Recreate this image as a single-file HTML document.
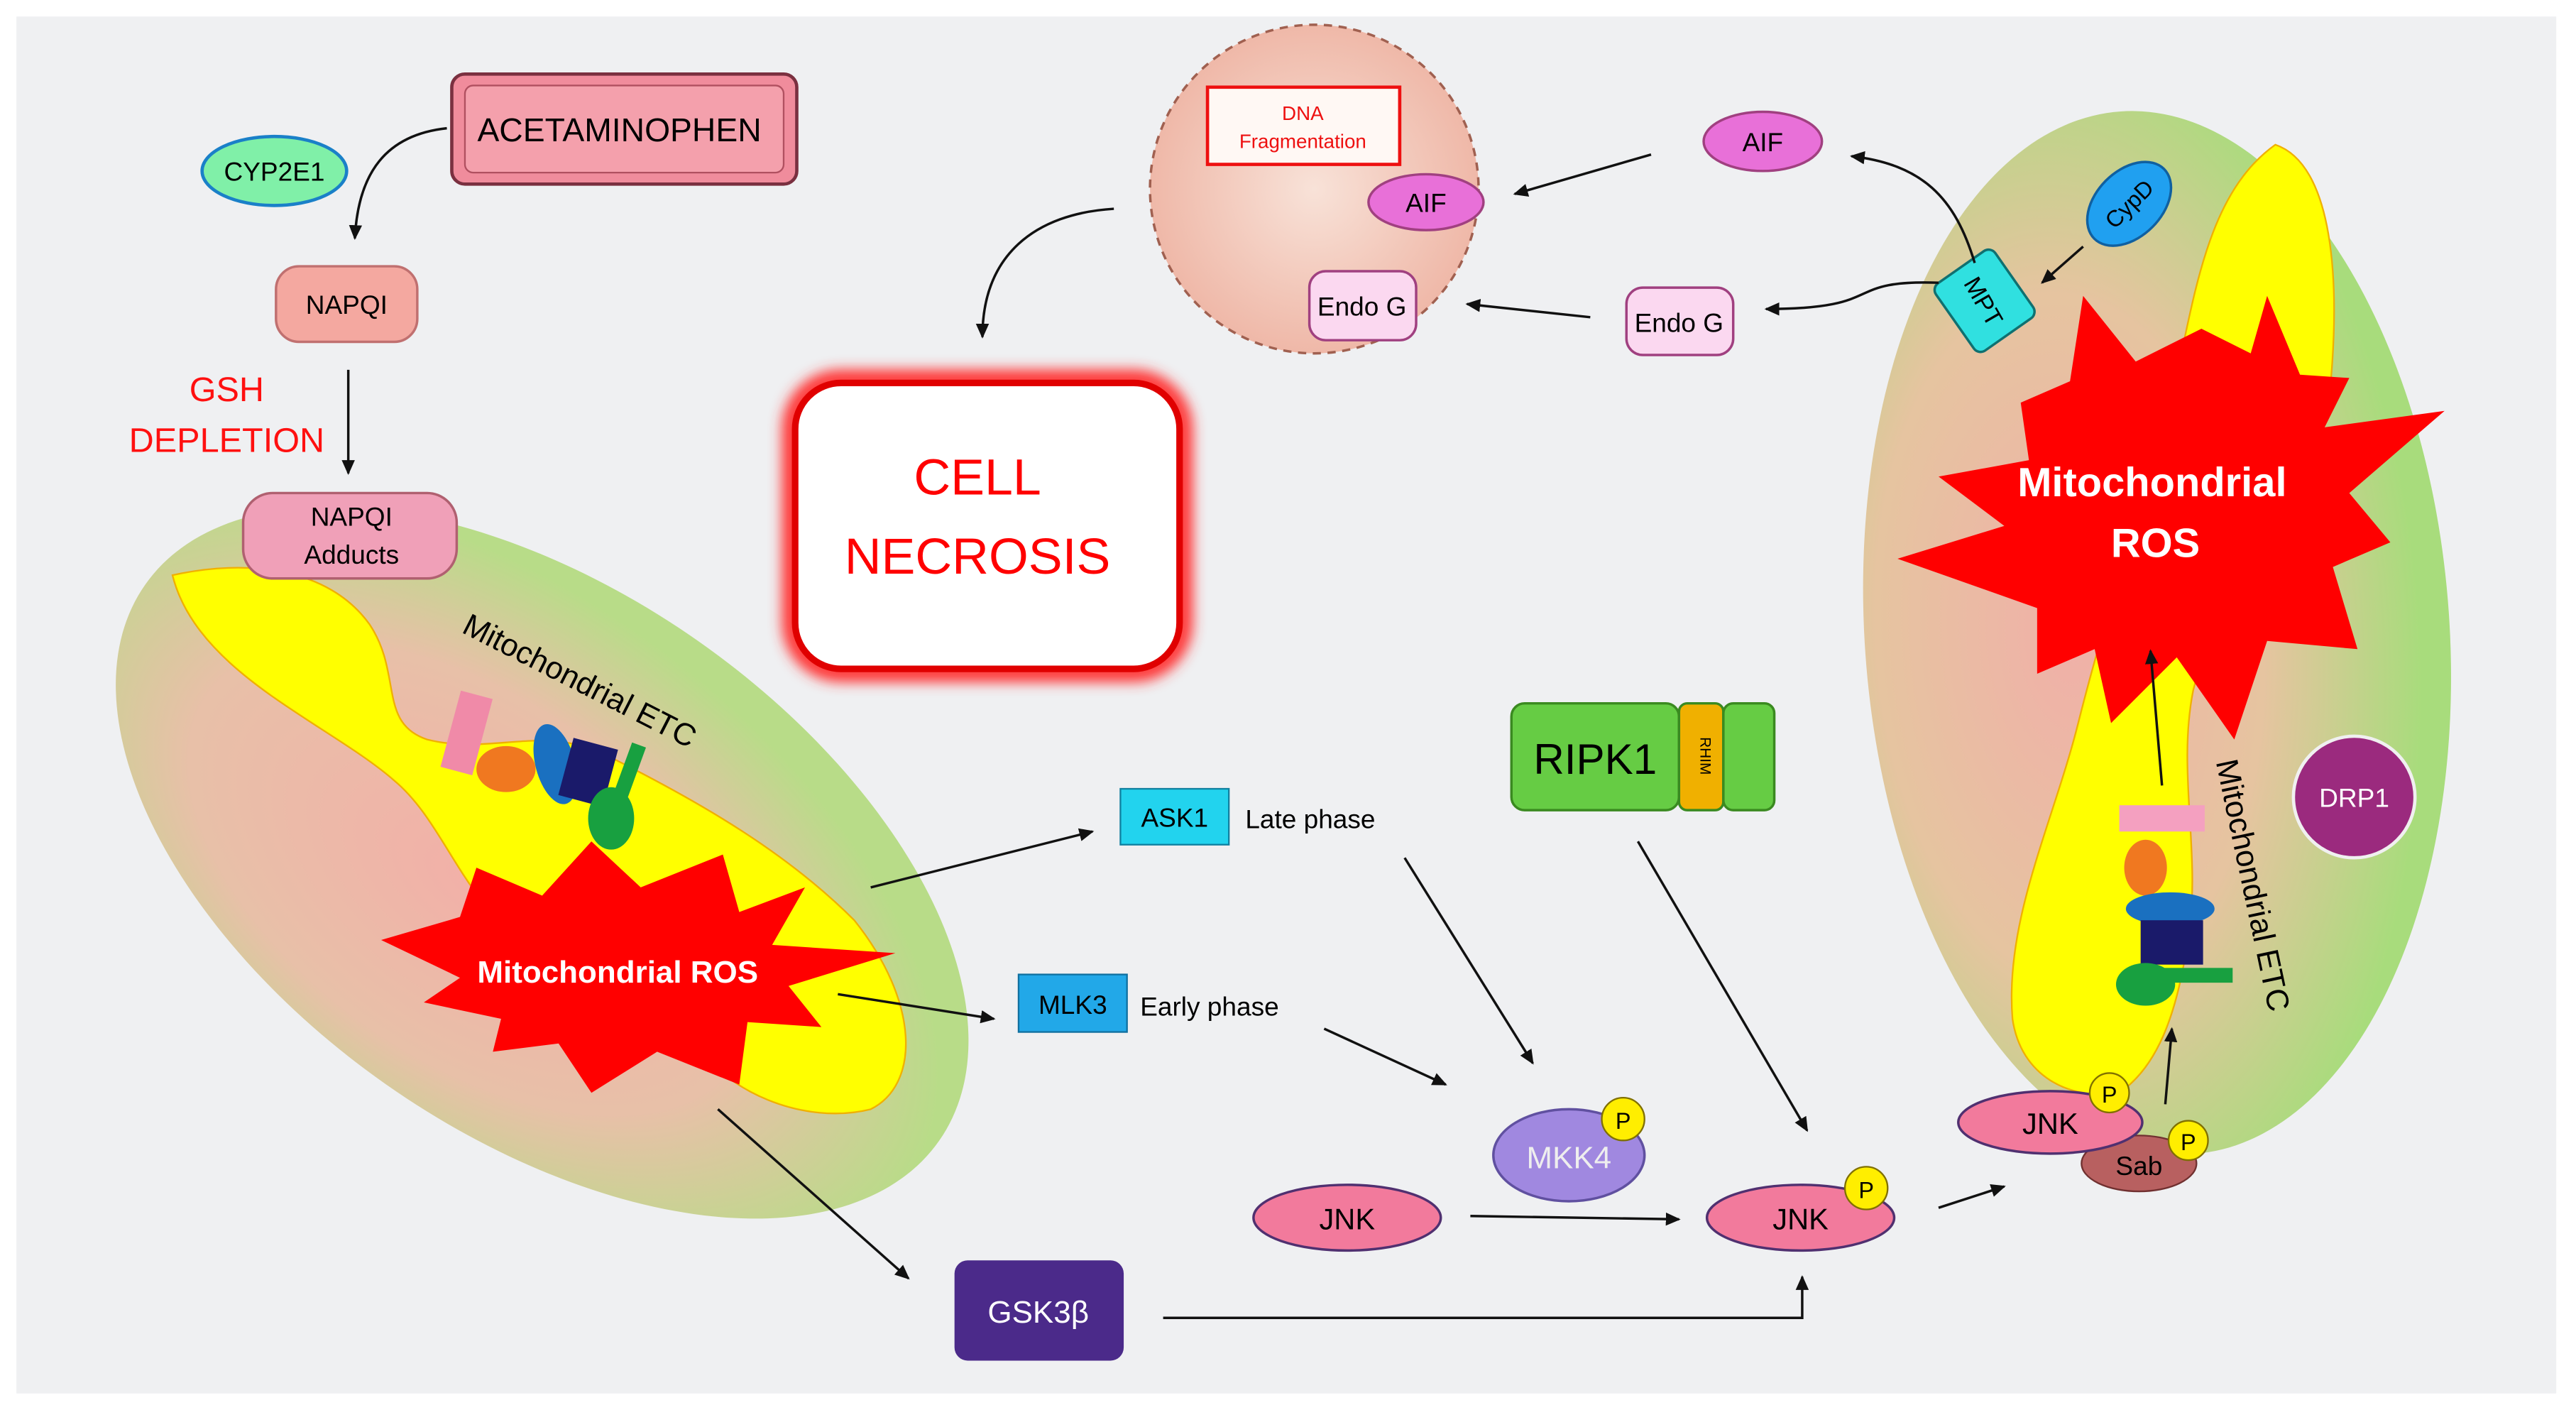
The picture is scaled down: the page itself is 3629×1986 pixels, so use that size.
<!DOCTYPE html>
<html><head><meta charset="utf-8"><style>
html,body{margin:0;padding:0;background:#fff;}
svg{display:block;}
text{font-family:"Liberation Sans",sans-serif;}
</style></head><body>
<svg width="3629" height="1986" viewBox="0 0 1568 858" xmlns="http://www.w3.org/2000/svg">
<defs>
<marker id="ah" markerWidth="10" markerHeight="10" refX="8" refY="5" orient="auto" markerUnits="userSpaceOnUse"><path d="M0,1 L9,5 L0,9 z" fill="#111"/></marker>
<radialGradient id="mitoL" cx="45%" cy="60%" r="55%"><stop offset="0" stop-color="#f2b0a8"/><stop offset="0.6" stop-color="#e8c0a8"/><stop offset="1" stop-color="#b8dc88"/></radialGradient>
<radialGradient id="mitoR" cx="35%" cy="50%" r="60%"><stop offset="0" stop-color="#f0b0a8"/><stop offset="0.55" stop-color="#e6c4a0"/><stop offset="1" stop-color="#a8dc7c"/></radialGradient>
<radialGradient id="nuc" cx="50%" cy="50%" r="50%"><stop offset="0" stop-color="#f8e2d8"/><stop offset="1" stop-color="#efb8a8"/></radialGradient>
<filter id="glow" x="-20%" y="-20%" width="140%" height="140%"><feGaussianBlur stdDeviation="4"/></filter>
</defs>
<rect x="0" y="0" width="1568" height="858" fill="#fff"/>
<rect x="10" y="10" width="1546" height="838" fill="#eff0f2"/>

<!-- Left mitochondrion -->
<ellipse cx="330" cy="525" rx="295" ry="165" transform="rotate(35 330 525)" fill="url(#mitoL)"/>
<path d="M105,350 C150,340 200,345 225,380 C245,410 230,440 260,450 C300,460 330,440 370,460 C430,490 480,520 520,560 C560,610 560,660 530,675 C490,685 440,665 420,630 C400,600 360,600 320,575 C280,545 270,500 240,475 C200,440 120,410 105,350 Z" fill="#ffff00" stroke="#f0b000" stroke-width="1"/>
<rect x="148" y="300" width="130" height="52" rx="18" fill="#f0a0b8" stroke="#b06070" stroke-width="1.5"/>
<text x="214" y="320" font-size="16" text-anchor="middle">NAPQI</text>
<text x="214" y="343" font-size="16" text-anchor="middle">Adducts</text>
<text x="350" y="420" font-size="19" text-anchor="middle" transform="rotate(27 350 420)">Mitochondrial ETC</text>
<rect x="274" y="422" width="20" height="48" fill="#f08aa8" transform="rotate(15 284 446)"/>
<ellipse cx="308" cy="468" rx="18" ry="14" fill="#f07820"/>
<ellipse cx="338" cy="465" rx="12" ry="25" fill="#1a70c0" transform="rotate(-15 338 465)"/>
<rect x="344" y="452" width="28" height="36" fill="#1a1a6a" transform="rotate(15 358 470)"/>
<ellipse cx="372" cy="498" rx="14" ry="19" fill="#18a040"/>
<rect x="378" y="452" width="9" height="38" fill="#18a040" transform="rotate(20 382 471)"/>
<polygon points="232,572 280,558 290,528 330,545 360,512 390,540 440,520 450,555 490,540 470,575 545,580 480,600 500,625 455,622 450,660 400,640 360,665 340,635 300,640 305,620 258,610 280,595" fill="#ff0000"/>
<text x="376" y="598" font-size="19" font-weight="bold" fill="#fff" text-anchor="middle">Mitochondrial ROS</text>

<!-- Acetaminophen -->
<rect x="275" y="45" width="210" height="67" rx="8" fill="#f08c9c" stroke="#7a3040" stroke-width="2"/>
<rect x="283" y="52" width="194" height="53" rx="5" fill="#f4a0ac" stroke="#b05060" stroke-width="1"/>
<text x="377" y="86" font-size="20" text-anchor="middle">ACETAMINOPHEN</text>
<ellipse cx="167" cy="104" rx="44" ry="21" fill="#80f0a8" stroke="#1a80c8" stroke-width="2"/>
<text x="167" y="110" font-size="16" text-anchor="middle">CYP2E1</text>
<path d="M272,78 C235,82 218,105 216,145" fill="none" stroke="#111" stroke-width="1.5" marker-end="url(#ah)"/>
<rect x="168" y="162" width="86" height="46" rx="14" fill="#f4a8a0" stroke="#c07070" stroke-width="1.5"/>
<text x="211" y="191" font-size="16" text-anchor="middle">NAPQI</text>
<text x="138" y="244" font-size="21" fill="#ff1010" text-anchor="middle">GSH</text>
<text x="138" y="275" font-size="21" fill="#ff1010" text-anchor="middle">DEPLETION</text>
<line x1="212" y1="225" x2="212" y2="288" stroke="#111" stroke-width="1.5" marker-end="url(#ah)"/>

<!-- Cell necrosis -->
<rect x="482" y="231" width="238" height="178" rx="30" fill="none" stroke="#ff3030" stroke-width="12" filter="url(#glow)"/>
<rect x="484" y="233" width="234" height="174" rx="28" fill="#fff" stroke="#e00000" stroke-width="4"/>
<text x="595" y="301" font-size="31" fill="#ff0000" text-anchor="middle">CELL</text>
<text x="595" y="349" font-size="31" fill="#ff0000" text-anchor="middle">NECROSIS</text>

<!-- nucleus -->
<circle cx="800" cy="115" r="100" fill="url(#nuc)" stroke="#a06050" stroke-width="1.5" stroke-dasharray="5,4"/>
<rect x="735" y="53" width="117" height="47" fill="#fff8f4" stroke="#ee1010" stroke-width="2"/>
<text x="793" y="73" font-size="12" fill="#ee1010" text-anchor="middle">DNA</text>
<text x="793" y="90" font-size="12" fill="#ee1010" text-anchor="middle">Fragmentation</text>
<ellipse cx="868" cy="123" rx="35" ry="17" fill="#e870d8" stroke="#a04080" stroke-width="1.5"/>
<text x="868" y="129" font-size="16" text-anchor="middle">AIF</text>
<rect x="797" y="165" width="65" height="42" rx="10" fill="#fbd8f0" stroke="#a04080" stroke-width="1.5"/>
<text x="829" y="192" font-size="16" text-anchor="middle">Endo G</text>
<path d="M678,127 C630,130 598,155 598,205" fill="none" stroke="#111" stroke-width="1.5" marker-end="url(#ah)"/>
<ellipse cx="1073" cy="86" rx="36" ry="18" fill="#e870d8" stroke="#a04080" stroke-width="1.5"/>
<text x="1073" y="92" font-size="16" text-anchor="middle">AIF</text>
<line x1="1005" y1="94" x2="922" y2="118" stroke="#111" stroke-width="1.5" marker-end="url(#ah)"/>
<rect x="990" y="175" width="65" height="41" rx="10" fill="#fbd8f0" stroke="#a04080" stroke-width="1.5"/>
<text x="1022" y="202" font-size="16" text-anchor="middle">Endo G</text>
<line x1="968" y1="193" x2="893" y2="185" stroke="#111" stroke-width="1.5" marker-end="url(#ah)"/>

<!-- Right mitochondrion -->
<ellipse cx="1313" cy="385" rx="178" ry="318" transform="rotate(-4 1313 385)" fill="url(#mitoR)"/>
<path d="M1385,88 C1420,100 1425,170 1418,240 C1412,300 1350,360 1335,420 C1325,470 1340,520 1332,570 C1325,620 1312,650 1290,665 C1260,670 1230,655 1225,620 C1220,560 1250,500 1265,440 C1280,380 1300,320 1320,250 C1335,190 1340,120 1385,88 Z" fill="#ffff00" stroke="#f0b000" stroke-width="1"/>
<polygon points="1230,245 1260,232 1268,180 1300,220 1340,200 1370,215 1380,180 1400,228 1430,230 1415,260 1488,250 1430,300 1455,330 1420,345 1435,395 1380,390 1360,450 1325,400 1285,440 1275,395 1240,410 1240,370 1155,340 1220,320 1180,290 1235,280" fill="#ff0000"/>
<text x="1310" y="302" font-size="25" font-weight="bold" fill="#fff" text-anchor="middle">Mitochondrial</text>
<text x="1312" y="339" font-size="25" font-weight="bold" fill="#fff" text-anchor="middle">ROS</text>
<rect x="1186" y="158" width="44" height="50" rx="5" fill="#30e0e0" stroke="#107070" stroke-width="1.5" transform="rotate(-35 1208 183)"/>
<text x="1208" y="189" font-size="15" text-anchor="middle" transform="rotate(60 1208 183)">MPT</text>
<ellipse cx="1296" cy="124" rx="30" ry="20" fill="#20a0f0" stroke="#1060a0" stroke-width="1.5" transform="rotate(-45 1296 124)"/>
<text x="1296" y="129" font-size="14" text-anchor="middle" transform="rotate(-45 1296 124)">CypD</text>
<line x1="1268" y1="150" x2="1243" y2="172" stroke="#111" stroke-width="1.5" marker-end="url(#ah)"/>
<path d="M1202,160 C1190,120 1170,100 1127,95" fill="none" stroke="#111" stroke-width="1.5" marker-end="url(#ah)"/>
<path d="M1180,172 C1120,170 1150,188 1075,188" fill="none" stroke="#111" stroke-width="1.5" marker-end="url(#ah)"/>
<circle cx="1433" cy="485" r="37" fill="#9b2a7e" stroke="#f0f0f0" stroke-width="2"/>
<text x="1433" y="491" font-size="16" fill="#fff" text-anchor="middle">DRP1</text>
<text x="1365" y="540" font-size="19" text-anchor="middle" transform="rotate(78 1365 540)">Mitochondrial ETC</text>
<rect x="1290" y="490" width="52" height="16" fill="#f4a0c0"/>
<ellipse cx="1306" cy="528" rx="13" ry="17" fill="#f07820"/>
<ellipse cx="1321" cy="553" rx="27" ry="10" fill="#1a70c0"/>
<rect x="1303" y="560" width="38" height="27" fill="#1a1a6a"/>
<ellipse cx="1306" cy="599" rx="18" ry="13" fill="#18a040"/>
<rect x="1315" y="589" width="44" height="9" fill="#18a040"/>
<line x1="1316" y1="478" x2="1309" y2="396" stroke="#111" stroke-width="1.5" marker-end="url(#ah)"/>
<line x1="1318" y1="672" x2="1322" y2="626" stroke="#111" stroke-width="1.5" marker-end="url(#ah)"/>
<ellipse cx="1302" cy="708" rx="35" ry="17" fill="#b86060" stroke="#703030" stroke-width="1"/>
<ellipse cx="1248" cy="683" rx="56" ry="19" fill="#f27a9c" stroke="#503070" stroke-width="1.5"/>
<text x="1248" y="690" font-size="18" text-anchor="middle">JNK</text>
<text x="1302" y="715" font-size="16" text-anchor="middle">Sab</text>
<circle cx="1284" cy="665" r="12" fill="#ffee00" stroke="#807000"/>
<text x="1284" y="671" font-size="14" text-anchor="middle">P</text>
<circle cx="1332" cy="694" r="12" fill="#ffee00" stroke="#807000"/>
<text x="1332" y="700" font-size="14" text-anchor="middle">P</text>

<!-- kinases -->
<path d="M530,540 L665,506" stroke="#111" stroke-width="1.5" marker-end="url(#ah)"/>
<path d="M510,605 L605,620" stroke="#111" stroke-width="1.5" marker-end="url(#ah)"/>
<path d="M437,675 L553,778" stroke="#111" stroke-width="1.5" marker-end="url(#ah)"/>
<rect x="682" y="480" width="66" height="34" fill="#22d3ee" stroke="#1080a0" stroke-width="1"/>
<text x="715" y="503" font-size="16" text-anchor="middle">ASK1</text>
<text x="758" y="504" font-size="16">Late phase</text>
<rect x="620" y="593" width="66" height="35" fill="#22a8e8" stroke="#1070a0" stroke-width="1"/>
<text x="653" y="617" font-size="16" text-anchor="middle">MLK3</text>
<text x="694" y="618" font-size="16">Early phase</text>
<rect x="581" y="767" width="103" height="61" rx="8" fill="#4b2a8a"/>
<text x="632" y="805" font-size="19" fill="#fff" text-anchor="middle">GSK3β</text>
<path d="M708,802 L1097,802 L1097,777" fill="none" stroke="#111" stroke-width="1.5" marker-end="url(#ah)"/>
<rect x="920" y="428" width="102" height="65" rx="8" fill="#66cc44" stroke="#3a8a20" stroke-width="1.5"/>
<text x="971" y="471" font-size="26" text-anchor="middle">RIPK1</text>
<rect x="1022" y="428" width="27" height="65" rx="5" fill="#f0b000" stroke="#3a8a20" stroke-width="1.5"/>
<text x="1035" y="460" font-size="9" text-anchor="middle" transform="rotate(90 1035 460)">RHIM</text>
<rect x="1049" y="428" width="31" height="65" rx="6" fill="#66cc44" stroke="#3a8a20" stroke-width="1.5"/>
<line x1="855" y1="522" x2="933" y2="647" stroke="#111" stroke-width="1.5" marker-end="url(#ah)"/>
<line x1="806" y1="626" x2="880" y2="660" stroke="#111" stroke-width="1.5" marker-end="url(#ah)"/>
<line x1="997" y1="512" x2="1100" y2="688" stroke="#111" stroke-width="1.5" marker-end="url(#ah)"/>
<ellipse cx="955" cy="703" rx="46" ry="28" fill="#a088e0" stroke="#6050a0" stroke-width="1.5"/>
<text x="955" y="711" font-size="19" fill="#eee" text-anchor="middle">MKK4</text>
<circle cx="988" cy="681" r="13" fill="#ffee00" stroke="#807000"/>
<text x="988" y="687" font-size="14" text-anchor="middle">P</text>
<ellipse cx="820" cy="741" rx="57" ry="20" fill="#f27a9c" stroke="#503070" stroke-width="1.5"/>
<text x="820" y="748" font-size="18" text-anchor="middle">JNK</text>
<line x1="895" y1="740" x2="1022" y2="742" stroke="#111" stroke-width="1.5" marker-end="url(#ah)"/>
<ellipse cx="1096" cy="741" rx="57" ry="20" fill="#f27a9c" stroke="#503070" stroke-width="1.5"/>
<text x="1096" y="748" font-size="18" text-anchor="middle">JNK</text>
<circle cx="1136" cy="723" r="13" fill="#ffee00" stroke="#807000"/>
<text x="1136" y="729" font-size="14" text-anchor="middle">P</text>
<line x1="1180" y1="735" x2="1220" y2="722" stroke="#111" stroke-width="1.5" marker-end="url(#ah)"/>
</svg>
</body></html>
